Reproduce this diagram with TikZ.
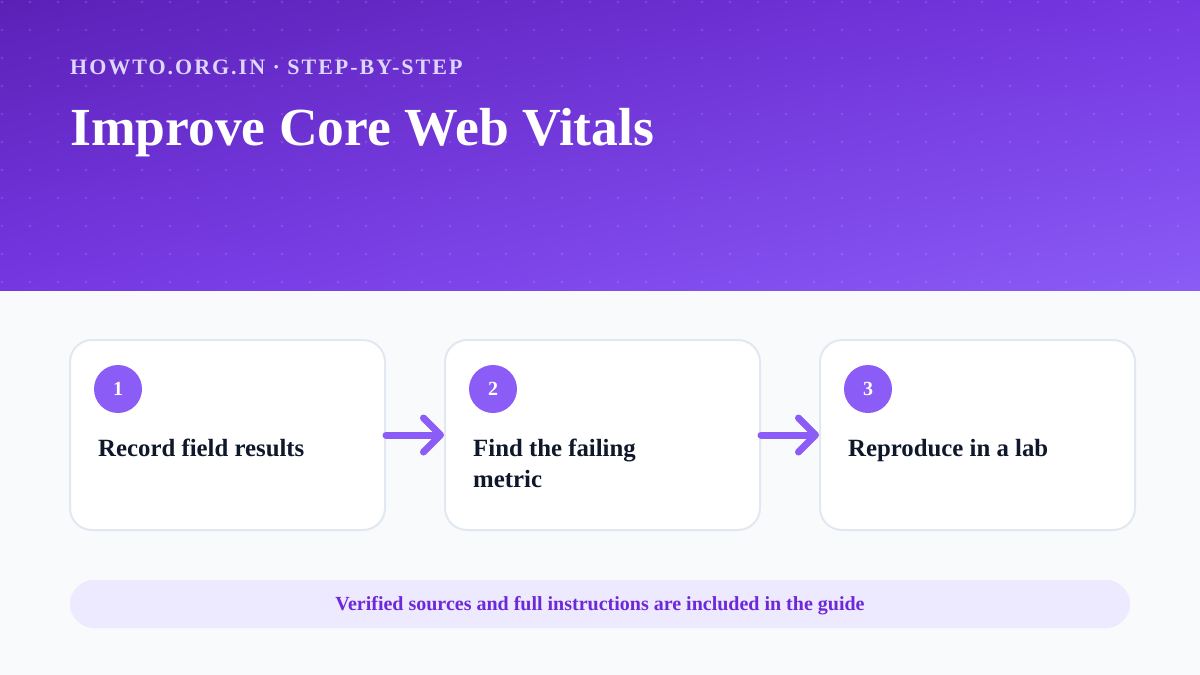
\documentclass[tikz,border=0pt]{standalone}
\usepackage{fontspec}
\setmainfont{Liberation Serif}
\newfontfamily\kickerfont[LetterSpace=9]{Liberation Serif}
\usetikzlibrary{arrows.meta,positioning,shadings}
\definecolor{headstart}{HTML}{5B21B6}
\definecolor{headmid}{HTML}{7537E2}
\definecolor{headend}{HTML}{8B5CF6}
\definecolor{pagebg}{HTML}{F8FAFC}
\definecolor{cardline}{HTML}{E2E8F0}
\definecolor{accent}{HTML}{8B5CF6}
\definecolor{ink}{HTML}{0F172A}
\definecolor{kickertext}{HTML}{DDD6FE}
\definecolor{notefill}{HTML}{EDE9FE}
\definecolor{notetext}{HTML}{6D28D9}
\begin{document}
\begin{tikzpicture}[x = 1pt, y = -1pt,
	card/.style = {draw = cardline, line width = 2pt, fill = white, rounded corners = 22pt,
		minimum width = 315pt, minimum height = 190pt, inner sep = 0pt},
	badge/.style = {circle, fill = accent, minimum size = 48pt, inner sep = 0pt,
		text = white, font = \bfseries\fontsize{20}{20}\selectfont},
	steptext/.style = {anchor = north west, inner sep = 0pt, align = left, text = ink,
		font = \bfseries\fontsize{24.8}{31}\selectfont},
	flow/.style = {draw = accent, line width = 7pt, line cap = round, line join = round,
		-{Straight Barb[length = 17pt, width = 34pt, round]}},
	dot/.style = {fill = white, fill opacity = 0.15}]
	\useasboundingbox (0,0) rectangle (1200,675);
	\fill [pagebg] (0,0) rectangle (1200,675);
	\shade [upper left = headstart, lower right = headend, upper right = headmid, lower left = headmid]
		(0,0) rectangle (1200,290);
	\foreach \i in {0,...,42}
		\foreach \j in {0,...,10}
			\fill [dot] (2 + 28*\i, 2 + 28*\j) circle (1.3);
	\node [anchor = base west, inner sep = 0pt, text = kickertext, font = \kickerfont\bfseries\fontsize{22}{22}\selectfont]
		(kicker) at (70,74) {HOWTO.ORG.IN · STEP-BY-STEP};
	\node [anchor = base west, inner sep = 0pt, text = white, font = \bfseries\fontsize{53.6}{54}\selectfont]
		(title) at (70,145) {Improve Core Web Vitals};
	\node [card] (c1) at (227.5,435) {};
	\node [card, right = 58pt of c1] (c2) {};
	\node [card, right = 58pt of c2] (c3) {};
	\node [badge] (n1) at ([shift = {(49,50)}]c1.north west) {1};
	\node [badge] (n2) at ([shift = {(49,50)}]c2.north west) {2};
	\node [badge] (n3) at ([shift = {(49,50)}]c3.north west) {3};
	\node [steptext] (t1) at ([shift = {(29,100)}]c1.north west) {Record field results};
	\node [steptext] (t2) at ([shift = {(29,100)}]c2.north west) {Find the failing\\metric};
	\node [steptext] (t3) at ([shift = {(29,100)}]c3.north west) {Reproduce in a lab};
	\draw [flow] (c1) -- (c2);
	\draw [flow] (c2) -- (c3);
	\node [fill = notefill, rounded corners = 24pt, minimum width = 1060pt, minimum height = 48pt,
		text height = 13pt, text depth = 0pt,
		text = notetext, font = \bfseries\fontsize{20}{20}\selectfont] (note) at (600,604)
		{Verified sources and full instructions are included in the guide};
\end{tikzpicture}
\end{document}
